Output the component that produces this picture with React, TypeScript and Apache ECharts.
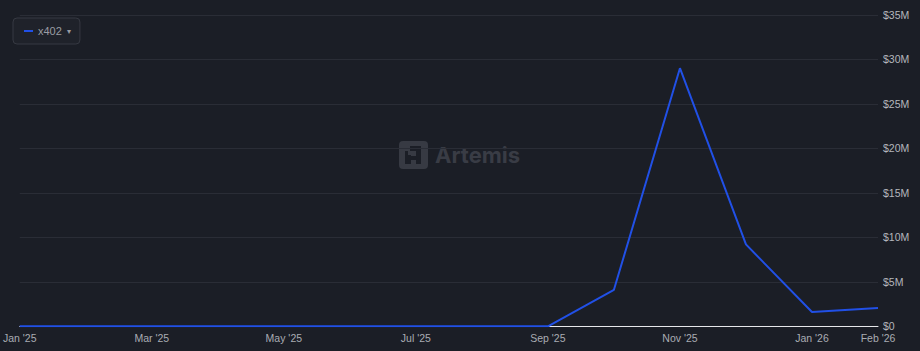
import React, { useEffect, useRef } from "react";
import * as echarts from "echarts";

const months = [
  "Jan '25", "Feb '25", "Mar '25", "Apr '25", "May '25", "Jun '25", "Jul '25",
  "Aug '25", "Sep '25", "Oct '25", "Nov '25", "Dec '25", "Jan '26", "Feb '26",
];
const x402Values = [0, 0, 0, 0, 0, 0, 0, 0, 0, 4.1e6, 29.0e6, 9.2e6, 1.6e6, 2.05e6];
const yTicks = { min: 0, max: 35e6, interval: 5e6 };

const BG = "#1b1e26";

export default function App() {
  const ref = useRef<HTMLDivElement>(null);
  useEffect(() => {
    if (!ref.current) return;
    const chart = echarts.init(ref.current, undefined, { renderer: "svg" });
    chart.setOption({
      animation: false,
      backgroundColor: BG,
      textStyle: { fontFamily: "Liberation Sans, Arial, sans-serif" },
      grid: { left: 18, right: 42, top: 14.8, bottom: 24.7, containLabel: false },
      legend: {
        left: 13,
        top: 18,
        data: ["x402"],
        icon: "rect",
        itemWidth: 9,
        itemHeight: 2,
        padding: [7, 9, 7, 11],
        backgroundColor: "#1f222a",
        borderColor: "#363942",
        borderWidth: 1,
        borderRadius: 4,
        textStyle: {
          color: "#9a9ca3",
          fontSize: 11,
          lineHeight: 12,
          rich: { c: { color: "#9a9ca3", fontSize: 8, padding: [0, 0, 0, 2] } },
        },
        formatter: (name: string) => `${name} {c|▾}`,
      },
      xAxis: {
        type: "category",
        data: months,
        boundaryGap: false,
        axisLine: { show: true, lineStyle: { color: "#e6e7ea", width: 1 } },
        axisTick: { show: false },
        splitLine: { show: false },
        axisLabel: {
          color: "#a9acb3",
          fontSize: 10.5,
          margin: 6,
          interval: (i: number) => i % 2 === 0 || i === months.length - 1,
        },
      },
      yAxis: {
        type: "value",
        position: "right",
        min: yTicks.min,
        max: yTicks.max,
        interval: yTicks.interval,
        axisLine: { show: false },
        axisTick: { show: false },
        splitLine: { show: true, lineStyle: { color: "#2a2d36", width: 1 } },
        axisLabel: {
          color: "#b4b7bd",
          fontSize: 10.5,
          margin: 5,
          formatter: (v: number) => (v === 0 ? "$0" : `$${v / 1e6}M`),
        },
      },
      graphic: [
        {
          type: "group",
          left: 399,
          top: 141,
          silent: true,
          z: 0,
          children: [
            { type: "rect", shape: { x: 0, y: 0, width: 29, height: 28, r: 4 }, style: { fill: "#373a43" } },
            { type: "rect", shape: { x: 11, y: 5, width: 10, height: 5 }, style: { fill: BG } },
            { type: "rect", shape: { x: 6, y: 10, width: 6, height: 13 }, style: { fill: BG } },
            { type: "rect", shape: { x: 17, y: 5, width: 5, height: 18 }, style: { fill: BG } },
            { type: "rect", shape: { x: 11, y: 15, width: 7, height: 4 }, style: { fill: BG } },
            { type: "rect", shape: { x: 9, y: 10, width: 4, height: 4 }, style: { fill: "#373a43" } },
            {
              type: "text",
              x: 36,
              y: 14,
              style: {
                text: "Artemis",
                fill: "#393c45",
                font: "bold 22px Inter, Liberation Sans, sans-serif",
                textVerticalAlign: "middle",
              },
            },
          ],
        },
      ],
      series: [
        {
          name: "x402",
          type: "line",
          data: x402Values,
          showSymbol: false,
          symbol: "none",
          lineStyle: { color: "#2150e6", width: 2 },
          itemStyle: { color: "#2150e6" },
          z: 3,
        },
      ],
    });
    return () => chart.dispose();
  }, []);
  return <div ref={ref} style={{ width: 920, height: 351, position: "fixed", left: 0, top: 0 }} />;
}
